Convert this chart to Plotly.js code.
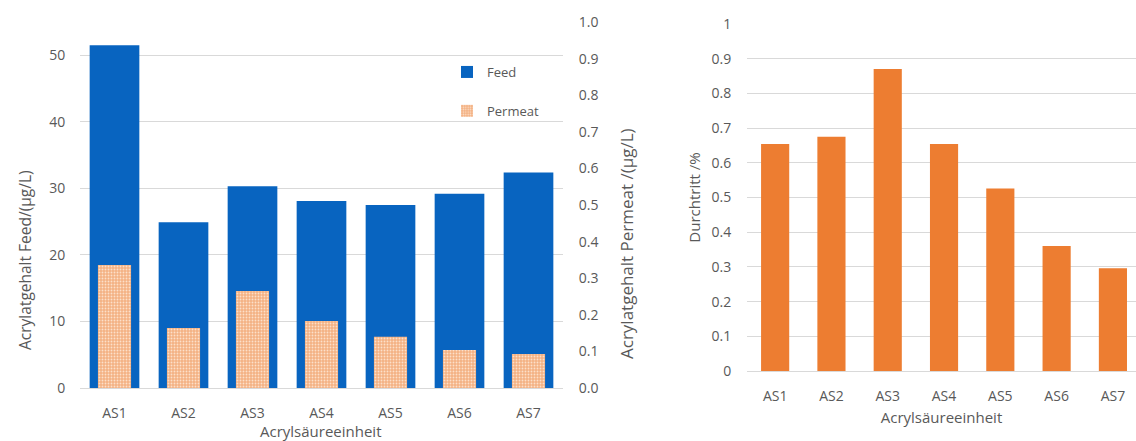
<!DOCTYPE html>
<html>
<head>
<meta charset="utf-8">
<script src="https://cdn.plot.ly/plotly-3.0.1.min.js"></script>
<style>html,body{margin:0;padding:0;background:#fff;}#chart{width:1136px;height:441px;}</style>
</head>
<body>
<div id="chart"></div>
<script>
const categories = ["AS1","AS2","AS3","AS4","AS5","AS6","AS7"];
const feedValues = [51.5, 24.9, 30.3, 28.1, 27.5, 29.2, 32.4];
const permeatValues = [0.336, 0.164, 0.265, 0.183, 0.140, 0.104, 0.093];
const durchtrittValues = [0.654, 0.675, 0.870, 0.654, 0.526, 0.360, 0.296];
const leftTickVals = [0, 10, 20, 30, 40, 50];
const rightTickVals = [0, 0.1, 0.2, 0.3, 0.4, 0.5, 0.6, 0.7, 0.8, 0.9, 1.0];
const durchTickVals = [0, 0.1, 0.2, 0.3, 0.4, 0.5, 0.6, 0.7, 0.8, 0.9, 1];

const W = 1136, H = 441;
const txt = '#595959';
const grid = '#D9D9D9';
const fontFam = 'Open Sans, Noto Sans, sans-serif';

const traces = [
  {
    type: 'bar', name: 'Feed', x: categories, y: feedValues,
    xaxis: 'x', yaxis: 'y', width: 0.72, legendgroup: 'a',
    marker: {color: '#0864C0'}
  },
  {
    type: 'bar', name: 'Permeat', x: categories, y: permeatValues,
    xaxis: 'x', yaxis: 'y2', width: 0.48, legendgroup: 'b',
    marker: {color: '#F4B183', pattern: {shape: '.', fgcolor: '#FCE0CA', bgcolor: '#F4B183', size: 3, solidity: 0.3}}
  },
  {
    type: 'bar', name: 'Durchtritt', x: categories, y: durchtrittValues,
    xaxis: 'x2', yaxis: 'y3', width: 0.5, showlegend: false,
    marker: {color: '#ED7D31'}
  }
];

const layout = {
  width: W, height: H,
  margin: {l: 0, r: 0, t: 0, b: 0},
  paper_bgcolor: '#fff', plot_bgcolor: 'rgba(0,0,0,0)',
  font: {family: fontFam, size: 14, color: txt},
  barmode: 'overlay',
  showlegend: true,
  legend: {
    x: 447 / W, xanchor: 'left', y: 1 - 57 / H, yanchor: 'top',
    bgcolor: 'rgba(0,0,0,0)', tracegroupgap: 19,
    font: {family: fontFam, size: 13, color: txt}
  },
  xaxis: {
    domain: [80 / W, 563 / W], anchor: 'y',
    type: 'category', range: [-0.5, 6.5],
    showgrid: false, showline: true, linecolor: grid, linewidth: 1,
    ticks: 'outside', ticklen: 12, tickcolor: 'rgba(0,0,0,0)',
    tickfont: {size: 14, color: txt}
  },
  yaxis: {
    domain: [(H - 388) / H, (H - 22) / H], anchor: 'x',
    range: [0, 55], tickvals: leftTickVals, ticktext: leftTickVals.map(String),
    showgrid: true, gridcolor: grid, zeroline: false,
    ticks: 'outside', ticklen: 11, tickcolor: 'rgba(0,0,0,0)',
    tickfont: {size: 14, color: txt}
  },
  yaxis2: {
    overlaying: 'y', side: 'right', anchor: 'x',
    range: [0, 1.0], tickvals: rightTickVals, ticktext: rightTickVals.map(v => v.toFixed(1)),
    showgrid: false, zeroline: false,
    ticks: 'outside', ticklen: 12, tickcolor: 'rgba(0,0,0,0)',
    tickfont: {size: 14, color: txt}
  },
  xaxis2: {
    domain: [747 / W, 1], anchor: 'y3',
    type: 'category', range: [-0.5, 6.41],
    showgrid: false, showline: true, linecolor: grid, linewidth: 1,
    ticks: 'outside', ticklen: 12, tickcolor: 'rgba(0,0,0,0)',
    tickfont: {size: 14, color: txt},
    title: {text: 'Acrylsäureeinheit', standoff: 8, font: {size: 15, color: txt}}
  },
  yaxis3: {
    domain: [(H - 371) / H, (H - 24) / H], anchor: 'x2',
    range: [0, 1], tickvals: durchTickVals, ticktext: durchTickVals.map(String),
    showgrid: true, gridcolor: grid, zeroline: false,
    ticks: 'outside', ticklen: 12, tickcolor: 'rgba(0,0,0,0)',
    tickfont: {size: 14, color: txt},
    title: {text: 'Durchtritt /%', standoff: 7, font: {size: 15, color: txt}}
  },
  annotations: [
    {text: 'Acrylsäureeinheit', xref: 'paper', yref: 'paper', x: 321 / W, y: 1 - 431 / H,
     xanchor: 'center', yanchor: 'middle', showarrow: false, font: {size: 15, color: txt}},
    {text: 'Acrylatgehalt Feed/(µg/L)', xref: 'paper', yref: 'paper', x: 25 / W, y: 1 - 260 / H,
     xanchor: 'center', yanchor: 'middle', textangle: -90, showarrow: false, font: {size: 15.5, color: txt}},
    {text: 'Acrylatgehalt Permeat /(µg/L)', xref: 'paper', yref: 'paper', x: 626 / W, y: 1 - 244 / H,
     xanchor: 'center', yanchor: 'middle', textangle: -90, showarrow: false, font: {size: 17, color: txt}}
  ]
};

Plotly.newPlot('chart', traces, layout, {displayModeBar: false, staticPlot: true});
</script>
</body>
</html>
